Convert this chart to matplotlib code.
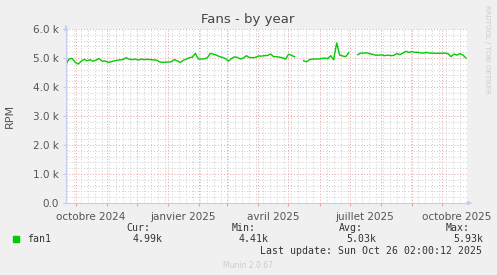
import datetime as dt
import numpy as np
import matplotlib
matplotlib.use("Agg")
import matplotlib.pyplot as plt
import matplotlib.dates as mdates
from matplotlib.patches import Rectangle
from matplotlib.ticker import MultipleLocator, FuncFormatter

# fan1 RPM, one reading every 3 days from the start of the window (nan = no data)
fan1 = [4790, 4964, 4987, 4860, 4790, 4883, 4955, 4906, 4940, 4890,
        4930, 4980, 4890, 4900, 4850, 4870, 4900, 4920, 4935, 4950,
        5010, 4960, 4945, 4964, 4930, 4960, 4945, 4955, 4945, 4935,
        4930, 4875, 4850, 4855, 4862, 4868, 4945, 4900, 4848, 4920,
        4960, 5010, 5030, 5160, 4964, 4964, 4970, 5010, 5160, 5130,
        5100, 5050, 5022, 4980, 4890, 4980, 5040, 5020, 4964, 5000,
        5080, 5015, 5010, 5022, 5070, 5065, 5080, 5085, 5138, 5050,
        5045, 5028, 5005, 4964, 5130, 5090, 5045, np.nan, np.nan, 4906,
        4870, 4945, 4964, 4964, 4964, 4980, 4999, 4975, 5080, 4940,
        5520, 5100, 5070, 5045, 5180, np.nan, np.nan, 5115, 5170, 5170,
        5180, 5150, 5125, 5095, 5100, 5105, 5080, 5100, 5080, 5090,
        5155, 5115, 5165, 5231, 5196, 5220, 5196, 5196, 5173, 5173,
        5190, 5170, 5170, 5161, 5161, 5163, 5170, 5150, 5045, 5135,
        5100, 5150, 5100, 4999]
step_days = 3
start = dt.datetime(2024, 9, 21, 2, 0, 12)
end = dt.datetime(2025, 10, 26, 2, 0, 12)
dates = [start + dt.timedelta(days=step_days * i) for i in range(len(fan1))]

quarter_labels = ["octobre 2024", "janvier 2025", "avril 2025", "juillet 2025", "octobre 2025"]
quarter_dates = [dt.datetime(2024, 10, 16), dt.datetime(2025, 1, 16), dt.datetime(2025, 4, 16),
                 dt.datetime(2025, 7, 16), dt.datetime(2025, 10, 16)]

stat_names = ["Cur:", "Min:", "Avg:", "Max:"]
stat_values = ["4.99k", "4.41k", "5.03k", "5.93k"]

W, H = 497, 275
def fx(px): return px / W
def fy(py): return 1 - py / H

fig = plt.figure(figsize=(W / 100, H / 100), dpi=100, facecolor="#f0f0f0")
ax = fig.add_axes([fx(66), fy(203), 401 / W, 174 / H])
ax.set_facecolor("white")

ax.plot(dates, fan1, color="#00cc00", lw=1.0)

ax.set_xlim(start, end)
ax.set_ylim(0, 6000)

# grid like rrdtool
ax.xaxis.set_major_locator(mdates.MonthLocator())
ax.xaxis.set_minor_locator(mdates.WeekdayLocator(byweekday=mdates.SU))
ax.xaxis.set_major_formatter(FuncFormatter(lambda v, p: ""))
ax.yaxis.set_major_locator(MultipleLocator(1000))
ax.yaxis.set_minor_locator(MultipleLocator(200))
ax.yaxis.set_major_formatter(FuncFormatter(lambda v, p: "0.0" if v == 0 else f"{v/1000:.1f} k"))
ax.grid(which="minor", color="#cccccc", ls=(0, (1, 2)), lw=0.7)
ax.grid(which="major", color="#e6a0a0", ls=(0, (1, 2)), lw=0.7)
ax.set_axisbelow(True)

ax.tick_params(axis="x", which="major", length=2, color="#e6a0a0", pad=2)
ax.tick_params(axis="x", which="minor", length=0)
ax.tick_params(axis="y", which="major", length=2, color="#c8ccf0", labelsize=7.5,
               labelcolor="#555555", pad=3)
ax.tick_params(axis="y", which="minor", length=0)

for s in ["top", "right"]:
    ax.spines[s].set_visible(False)
for s in ["left", "bottom"]:
    ax.spines[s].set_color("#c8ccf0")
    ax.spines[s].set_linewidth(0.8)

arrow = dict(arrowstyle="-|>", color="#c8ccf0", lw=0.8, mutation_scale=6)
ax.annotate("", xy=(1.02, 0), xytext=(0.99, 0), xycoords="axes fraction", arrowprops=arrow)
ax.annotate("", xy=(0, 1.035), xytext=(0, 1.0), xycoords="axes fraction", arrowprops=arrow)

for lab, d in zip(quarter_labels, quarter_dates):
    ax.text(d, -0.05, lab, transform=ax.get_xaxis_transform(), ha="center", va="top",
            fontsize=7.5, color="#555555")

fig.text(fx(248), fy(19), "Fans - by year", ha="center", va="center", fontsize=9.5, color="#444444")
fig.text(fx(10), fy(116), "RPM", rotation=90, ha="center", va="center", fontsize=8, color="#555555")
fig.text(fx(487), fy(5), "RRDTOOL / TOBI OETIKER", rotation=270, ha="center", va="top",
         fontsize=5, color="#cccccc")

mono = "DejaVu Sans Mono"
fig.patches.append(Rectangle((fx(13), fy(242)), 6 / W, 6 / H, transform=fig.transFigure,
                             color="#00cc00"))
fig.text(fx(27), fy(239), "fan1", family=mono, fontsize=7.1, color="#333333", va="center")
val_right = [163, 269, 376, 483]
for name, val, xr in zip(stat_names, stat_values, val_right):
    fig.text(fx(xr - 13), fy(228), name, family=mono, fontsize=7.1, color="#333333",
             ha="right", va="center")
    fig.text(fx(xr), fy(239), val, family=mono, fontsize=7.1, color="#333333",
             ha="right", va="center")
fig.text(fx(482), fy(251), "Last update: Sun Oct 26 02:00:12 2025", family=mono, fontsize=7.1,
         color="#333333", ha="right", va="center")
fig.text(fx(248), fy(266), "Munin 2.0.67", fontsize=5.5, color="#cccccc", ha="center", va="center")

fig.savefig("out.png", dpi=100, facecolor=fig.get_facecolor())
